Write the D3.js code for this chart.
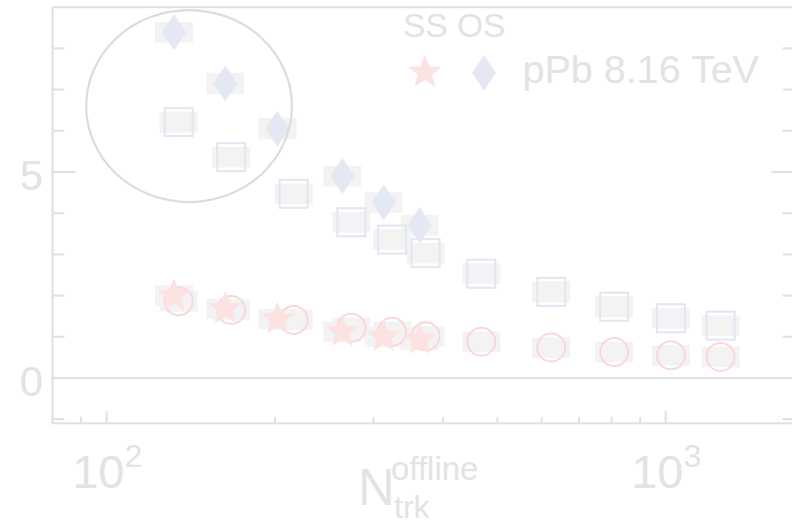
<!DOCTYPE html>
<html>
<head>
<meta charset="utf-8">
<script src="https://cdn.jsdelivr.net/npm/d3@7"></script>
<style>
  html, body { margin: 0; padding: 0; background: #ffffff; }
  svg { display: block; }
  text { font-family: "Liberation Sans", Arial, Helvetica, sans-serif; fill: #e3e3e3; }
</style>
</head>
<body>
<svg id="chart" width="792" height="524"></svg>
<script>
// pPb 8.16 TeV: same-sign (stars) and opposite-sign (diamonds)
const pPbNtrk = [132, 163, 202, 264, 313, 363];
const pPbOS = [8.39, 7.15, 6.05, 4.90, 4.26, 3.71];
const pPbSS = [2.00, 1.68, 1.43, 1.12, 1.00, 0.93];
const pPbOSSys = [0.25, 0.26, 0.26, 0.25, 0.25, 0.25];
const pPbSSSys = [0.25, 0.25, 0.25, 0.25, 0.25, 0.25];

// second system: opposite-sign (open squares) and same-sign (open circles)
const refNtrk = [134.5, 167, 216, 274, 324, 372, 468, 624, 809, 1022, 1254];
const refOS = [6.21, 5.36, 4.47, 3.78, 3.36, 3.03, 2.53, 2.09, 1.73, 1.45, 1.27];
const refSS = [1.86, 1.65, 1.41, 1.22, 1.12, 1.01, 0.88, 0.74, 0.63, 0.55, 0.51];
const refOSSys = [0.25, 0.25, 0.25, 0.25, 0.25, 0.25, 0.25, 0.26, 0.26, 0.25, 0.25];
const refSSSys = [0.25, 0.25, 0.25, 0.25, 0.25, 0.25, 0.25, 0.25, 0.25, 0.25, 0.25];

// axis ticks
const xMajorTicks = [100, 1000];
const xMajorExp = ["2", "3"];
const xMinorTicks = [90, 200, 300, 400, 500, 600, 700, 800, 900];
const yMajorTicks = [0, 5];
const yMinorTicks = [-1, 1, 2, 3, 4, 6, 7, 8];

// legend text
const legendHeader = "SS OS";
const legendLabel = "pPb 8.16 TeV";

// highlighted low-multiplicity region: centre (N, value), half-extent (decades, value)
const ringCentre = [140.4, 6.6];
const ringHalf = [0.184, 2.33];

const svg = d3.select("#chart");

const x = d3.scaleLog().domain([80, 1700]).range([52.5, 52.5 + 559 * Math.log10(1700 / 80)]);
const y = d3.scaleLinear().domain([-1.1, 9.0]).range([423.3, 7.2]);

const axisColor = "#e0e0e0";
const boxFill = "#f3f3f3";
const blueFill = "#e3e8f3";
const blueLine = "#e1e6f2";
const pinkFill = "#fde2e2";
const pinkLine = "#fbd8d8";

const [x0, x1] = x.range();
const [yb, yt] = y.range();

// frame
const frame = svg.append("g").attr("stroke", axisColor).attr("stroke-width", 2).attr("fill", "none");
frame.append("rect").attr("x", x0).attr("y", yt).attr("width", x1 - x0).attr("height", yb - yt);

// zero line
frame.append("line").attr("x1", x0).attr("x2", x1).attr("y1", y(0)).attr("y2", y(0));

// y ticks, left and right, pointing inward
yMajorTicks.forEach(v => {
  frame.append("line").attr("x1", x0).attr("x2", x0 + 23).attr("y1", y(v)).attr("y2", y(v));
  frame.append("line").attr("x1", x1).attr("x2", x1 - 23).attr("y1", y(v)).attr("y2", y(v));
});
yMinorTicks.forEach(v => {
  frame.append("line").attr("x1", x0).attr("x2", x0 + 12).attr("y1", y(v)).attr("y2", y(v));
  frame.append("line").attr("x1", x1).attr("x2", x1 - 12).attr("y1", y(v)).attr("y2", y(v));
});

// x ticks on the bottom axis
xMajorTicks.forEach(v => {
  frame.append("line").attr("x1", x(v)).attr("x2", x(v)).attr("y1", yb).attr("y2", yb - 12);
});
xMinorTicks.forEach(v => {
  frame.append("line").attr("x1", x(v)).attr("x2", x(v)).attr("y1", yb).attr("y2", yb - 6.5);
});

// y tick labels
svg.append("g").selectAll("text").data(yMajorTicks).join("text")
  .attr("x", 43).attr("y", d => y(d) + 18.5)
  .attr("text-anchor", "end").attr("font-size", 42)
  .text(d => d);

// x tick labels 10^n
const xl = svg.append("g").selectAll("text").data(xMajorTicks).join("text")
  .attr("x", d => x(d) + 0.5).attr("y", 488)
  .attr("text-anchor", "middle").attr("font-size", 47);
xl.append("tspan").text("10");
xl.append("tspan").attr("font-size", 32).attr("dy", -21).text((d, i) => xMajorExp[i]);

// x axis title
svg.append("text").attr("x", 358).attr("y", 505).attr("font-size", 51).text("N");
svg.append("text").attr("x", 391).attr("y", 480).attr("font-size", 33).text("offline");
svg.append("text").attr("x", 394).attr("y", 518).attr("font-size", 32).text("trk");

// shape helpers
function starPath(R, r) {
  const pts = [];
  for (let k = 0; k < 10; k++) {
    const a = (-90 + k * 36) * Math.PI / 180;
    const rad = k % 2 === 0 ? R : r;
    pts.push([rad * Math.cos(a), rad * Math.sin(a)]);
  }
  return "M" + pts.map(p => p[0].toFixed(2) + "," + p[1].toFixed(2)).join("L") + "Z";
}
function diamondPath(w, h) {
  return `M0,${-h / 2}L${w / 2},0L0,${h / 2}L${-w / 2},0Z`;
}
const STAR = starPath(17.5, 7.6);
const DIAMOND = diamondPath(24, 36);
const boxW = 38;

// systematic uncertainty boxes
function boxes(xs, vs, ss) {
  svg.append("g").selectAll("rect").data(xs).join("rect")
    .attr("x", d => x(d) - boxW / 2)
    .attr("width", boxW)
    .attr("y", (d, i) => y(vs[i] + ss[i]))
    .attr("height", (d, i) => y(vs[i] - ss[i]) - y(vs[i] + ss[i]))
    .attr("fill", boxFill);
}
boxes(refNtrk, refOS, refOSSys);
boxes(refNtrk, refSS, refSSSys);
boxes(pPbNtrk, pPbOS, pPbOSSys);
boxes(pPbNtrk, pPbSS, pPbSSSys);

// open squares
svg.append("g").selectAll("rect").data(refNtrk).join("rect")
  .attr("x", d => x(d) - 14).attr("y", (d, i) => y(refOS[i]) - 14)
  .attr("width", 28).attr("height", 28)
  .attr("fill", "none").attr("stroke", blueLine).attr("stroke-width", 2);

// open circles
svg.append("g").selectAll("circle").data(refNtrk).join("circle")
  .attr("cx", d => x(d)).attr("cy", (d, i) => y(refSS[i])).attr("r", 14)
  .attr("fill", "none").attr("stroke", pinkLine).attr("stroke-width", 2);

// filled diamonds
svg.append("g").selectAll("path").data(pPbNtrk).join("path")
  .attr("transform", (d, i) => `translate(${x(d)},${y(pPbOS[i])})`)
  .attr("d", DIAMOND).attr("fill", blueFill);

// filled stars
svg.append("g").selectAll("path").data(pPbNtrk).join("path")
  .attr("transform", (d, i) => `translate(${x(d)},${y(pPbSS[i])})`)
  .attr("d", STAR).attr("fill", pinkFill);

// ring around the low-multiplicity points
const rcx = x(ringCentre[0]);
const rcy = y(ringCentre[1]);
svg.append("ellipse")
  .attr("cx", rcx).attr("cy", rcy)
  .attr("rx", x(ringCentre[0] * Math.pow(10, ringHalf[0])) - rcx)
  .attr("ry", y(ringCentre[1] - ringHalf[1]) - rcy)
  .attr("fill", "none").attr("stroke", "#dcdcdc").attr("stroke-width", 2.2);

// legend
svg.append("text").attr("x", 403).attr("y", 37).attr("font-size", 33.5).text(legendHeader);
svg.append("path").attr("transform", "translate(425,72.5)").attr("d", STAR).attr("fill", pinkFill);
svg.append("path").attr("transform", "translate(484,72.8)").attr("d", DIAMOND).attr("fill", blueFill);
svg.append("text").attr("x", 522.5).attr("y", 83.3).attr("font-size", 39.5).text(legendLabel);
</script>
</body>
</html>
